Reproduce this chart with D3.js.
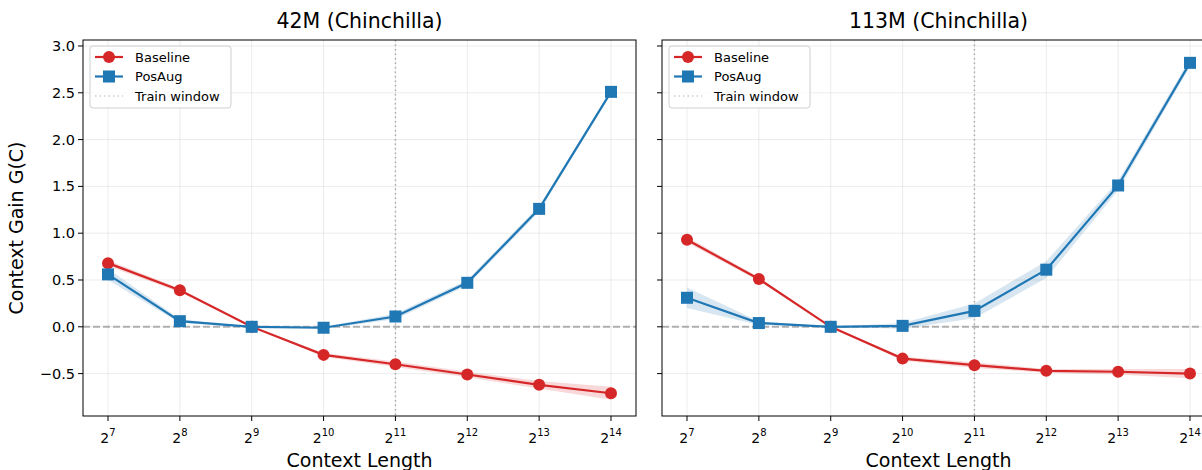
<!DOCTYPE html>
<html>
<head>
<meta charset="utf-8">
<script src="https://cdn.jsdelivr.net/npm/d3@7"></script>
<style>
  body { margin: 0; background: #fff; }
  svg { font-family: "DejaVu Sans", sans-serif; }
</style>
</head>
<body>
<svg id="chart" width="1202" height="470"></svg>
<script>
// context lengths as powers of two
const exponents = [7, 8, 9, 10, 11, 12, 13, 14];
const yTicks = [-0.5, 0.0, 0.5, 1.0, 1.5, 2.0, 2.5, 3.0];
const trainExp = 11;

const titles = ['42M (Chinchilla)', '113M (Chinchilla)'];

// 42M
const base42 = [0.68, 0.39, 0.0, -0.30, -0.40, -0.51, -0.62, -0.71];
const base42Err = [0.03, 0.02, 0.0, 0.02, 0.03, 0.03, 0.04, 0.07];
const pos42 = [0.56, 0.06, 0.0, -0.01, 0.11, 0.47, 1.26, 2.51];
const pos42Err = [0.06, 0.02, 0.0, 0.01, 0.03, 0.03, 0.03, 0.02];

// 113M
const base113 = [0.93, 0.51, 0.0, -0.34, -0.41, -0.47, -0.48, -0.50];
const base113Err = [0.03, 0.02, 0.0, 0.02, 0.03, 0.02, 0.03, 0.05];
const pos113 = [0.31, 0.04, 0.0, 0.01, 0.17, 0.61, 1.51, 2.82];
const pos113Err = [0.11, 0.02, 0.0, 0.03, 0.08, 0.09, 0.05, 0.04];

const panels = [
    { title: titles[0], base: base42, baseErr: base42Err, pos: pos42, posErr: pos42Err },
    { title: titles[1], base: base113, baseErr: base113Err, pos: pos113, posErr: pos113Err }
];

const red = '#d62728', blue = '#1f77b4';
const svg = d3.select('#chart');

const plotTop = 40, plotBottom = 416, plotWidth = 553;
const lefts = [83, 662];
const pad = 0.348;

const y = d3.scaleLinear().domain([-0.953, 3.064]).range([plotBottom, plotTop]);

panels.forEach((p, k) => {
    const x0 = lefts[k];
    const x = d3.scaleLog().base(2)
        .domain([Math.pow(2, 7 - pad), Math.pow(2, 14 + pad)])
        .range([x0, x0 + plotWidth]);
    const g = svg.append('g');

    // grid
    g.selectAll('.gx').data(exponents).enter().append('line')
        .attr('x1', d => x(2 ** d)).attr('x2', d => x(2 ** d))
        .attr('y1', plotTop).attr('y2', plotBottom)
        .attr('stroke', '#b0b0b0').attr('stroke-opacity', 0.3).attr('stroke-width', 0.8);
    g.selectAll('.gy').data(yTicks).enter().append('line')
        .attr('x1', x0).attr('x2', x0 + plotWidth)
        .attr('y1', d => y(d)).attr('y2', d => y(d))
        .attr('stroke', '#b0b0b0').attr('stroke-opacity', 0.3).attr('stroke-width', 0.8);

    // reference lines
    g.append('line')
        .attr('x1', x0).attr('x2', x0 + plotWidth).attr('y1', y(0)).attr('y2', y(0))
        .attr('stroke', '#808080').attr('stroke-opacity', 0.6)
        .attr('stroke-width', 2).attr('stroke-dasharray', '7,3');
    g.append('line')
        .attr('x1', x(2 ** trainExp)).attr('x2', x(2 ** trainExp))
        .attr('y1', plotTop).attr('y2', plotBottom)
        .attr('stroke', '#808080').attr('stroke-opacity', 0.6)
        .attr('stroke-width', 1.5).attr('stroke-dasharray', '1.5,3');

    const series = [
        { vals: p.base, err: p.baseErr, color: red, shape: 'circle' },
        { vals: p.pos, err: p.posErr, color: blue, shape: 'square' }
    ];

    series.forEach(s => {
        const pts = exponents.map((e, i) => ({ e: e, v: s.vals[i], r: s.err[i] }));
        const area = d3.area()
            .x(d => x(2 ** d.e))
            .y0(d => y(d.v - d.r))
            .y1(d => y(d.v + d.r));
        g.append('path').attr('d', area(pts))
            .attr('fill', s.color).attr('fill-opacity', 0.18);
        const line = d3.line().x(d => x(2 ** d.e)).y(d => y(d.v));
        g.append('path').attr('d', line(pts))
            .attr('fill', 'none').attr('stroke', s.color).attr('stroke-width', 2.2);
        if (s.shape === 'circle') {
            g.selectAll(null).data(pts).enter().append('circle')
                .attr('cx', d => x(2 ** d.e)).attr('cy', d => y(d.v)).attr('r', 6)
                .attr('fill', s.color);
        } else {
            g.selectAll(null).data(pts).enter().append('rect')
                .attr('x', d => x(2 ** d.e) - 6).attr('y', d => y(d.v) - 6)
                .attr('width', 12).attr('height', 12)
                .attr('fill', s.color);
        }
    });

    // frame
    g.append('rect')
        .attr('x', x0).attr('y', plotTop).attr('width', plotWidth).attr('height', plotBottom - plotTop)
        .attr('fill', 'none').attr('stroke', '#000').attr('stroke-width', 1);

    // x ticks
    const xt = g.selectAll('.xt').data(exponents).enter().append('g')
        .attr('transform', d => `translate(${x(2 ** d)},${plotBottom})`);
    xt.append('line').attr('y2', 5).attr('stroke', '#000');
    const tx = xt.append('text').attr('y', 27).attr('text-anchor', 'middle')
        .attr('font-size', 14).attr('fill', '#000');
    tx.append('tspan').text('2');
    tx.append('tspan').attr('dy', -7).attr('font-size', 10).text(d => d);

    // y ticks
    const yt = g.selectAll('.yt').data(yTicks).enter().append('g')
        .attr('transform', d => `translate(${x0},${y(d)})`);
    yt.append('line').attr('x2', -5).attr('stroke', '#000');
    if (k === 0) {
        yt.append('text').attr('x', -8).attr('dy', '0.35em').attr('text-anchor', 'end')
            .attr('font-size', 14.5).attr('fill', '#000')
            .text(d => d3.format('.1f')(d).replace('-', '\u2212'));
    }

    // titles
    g.append('text').attr('x', x0 + plotWidth / 2).attr('y', 28).attr('text-anchor', 'middle')
        .attr('font-size', 20.5).text(p.title);
    g.append('text').attr('x', x0 + plotWidth / 2).attr('y', 467).attr('text-anchor', 'middle')
        .attr('font-size', 19).text('Context Length');

    // legend
    const lg = g.append('g').attr('transform', `translate(${x0 + 7},${plotTop + 6})`);
    lg.append('rect').attr('width', 141).attr('height', 62).attr('rx', 3)
        .attr('fill', '#fff').attr('fill-opacity', 0.8)
        .attr('stroke', '#d0d0d0').attr('stroke-width', 1);
    const items = [
        { label: 'Baseline', color: red, shape: 'circle' },
        { label: 'PosAug', color: blue, shape: 'square' },
        { label: 'Train window', color: '#808080', shape: 'dot' }
    ];
    items.forEach((it, i) => {
        const yy = 11 + i * 19.5;
        if (it.shape === 'dot') {
            lg.append('line').attr('x1', 5).attr('x2', 33).attr('y1', yy).attr('y2', yy)
                .attr('stroke', it.color).attr('stroke-opacity', 0.4)
                .attr('stroke-width', 1.5).attr('stroke-dasharray', '1.5,3');
        } else {
            lg.append('line').attr('x1', 5).attr('x2', 33).attr('y1', yy).attr('y2', yy)
                .attr('stroke', it.color).attr('stroke-width', 2.2);
            if (it.shape === 'circle')
                lg.append('circle').attr('cx', 19).attr('cy', yy).attr('r', 6).attr('fill', it.color);
            else
                lg.append('rect').attr('x', 13).attr('y', yy - 6).attr('width', 12).attr('height', 12).attr('fill', it.color);
        }
        lg.append('text').attr('x', 45).attr('y', yy).attr('dy', '0.35em')
            .attr('font-size', 13).text(it.label);
    });
});

// y label
svg.append('text')
    .attr('transform', `translate(23,${(plotTop + plotBottom) / 2}) rotate(-90)`)
    .attr('text-anchor', 'middle').attr('font-size', 19)
    .text('Context Gain G(C)');
</script>
</body>
</html>
